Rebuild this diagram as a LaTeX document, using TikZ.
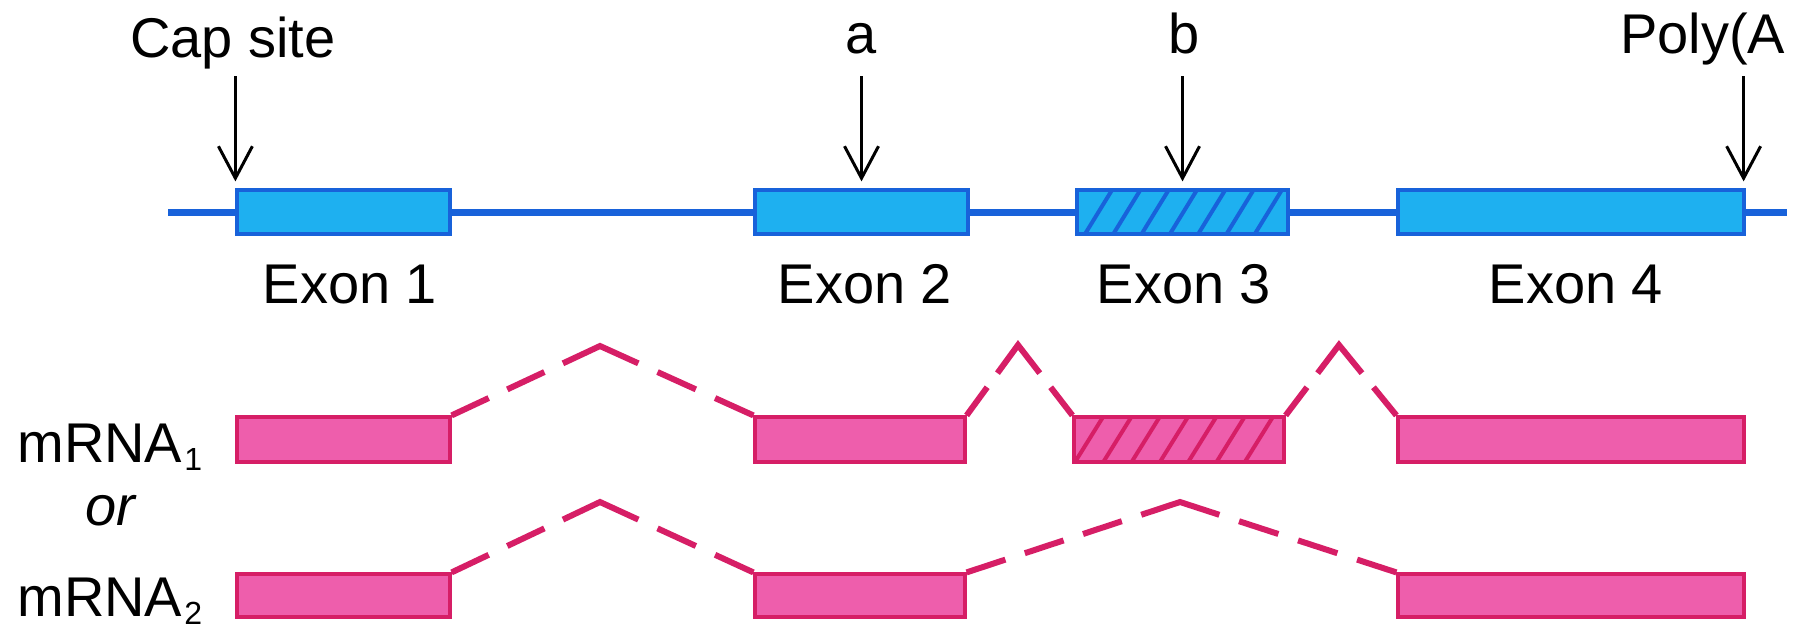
\documentclass[tikz,border=0pt]{standalone}
\usepackage{fontspec}
\setmainfont{Liberation Sans}
\usetikzlibrary{calc,arrows.meta}
\definecolor{dnablue}{RGB}{24,98,218}
\definecolor{exonfill}{RGB}{30,176,240}
\definecolor{pinkfill}{RGB}{238,94,172}
\definecolor{pinkline}{RGB}{214,30,102}
\tikzset{
  exonbox/.style={draw=dnablue, fill=exonfill, line width=1.6pt, inner sep=0pt, minimum height=22pt},
  mboxa/.style={draw=pinkline, fill=pinkfill, line width=1.6pt, inner sep=0pt, minimum height=22.5pt},
  mboxb/.style={draw=pinkline, fill=pinkfill, line width=1.6pt, inner sep=0pt, minimum height=21.5pt},
  dna/.style={draw=dnablue, line width=3.5pt},
  arr/.style={draw=black, line width=1.5pt, -{Straight Barb[length=16pt, width=17pt]}},
  lbl/.style={inner sep=0pt, anchor=base, font=\fontsize{28pt}{33pt}\selectfont},
  spl/.style={draw=pinkline, line width=3pt, line join=miter},
  hatchblue/.style={path picture={\foreach \i in {0,...,6} \draw[draw=dnablue, line width=2pt] ([xshift={4pt+\i*14.15pt}]path picture bounding box.south west) -- ++(13.5pt,22pt);}},
  hatchpink/.style={path picture={\foreach \i in {0,...,6} \draw[draw=pinkline, line width=2pt] ([xshift={0.5pt+\i*14.15pt}]path picture bounding box.south west) -- ++(14pt,22.5pt);}}
}
\newcommand\splicejoin[5]{%
  \pgfmathsetmacro\spA{1/(#4-1/3)}%
  \pgfmathsetmacro\spB{1/(#5-1/3)}%
  \pgfmathtruncatemacro\smA{#4-2}%
  \pgfmathtruncatemacro\smB{#5-2}%
  \foreach \k in {0,...,\smA} \draw[spl] ($(#1)!{\k*\spA}!(#2)$) -- ($(#1)!{(\k+2/3)*\spA}!(#2)$);
  \foreach \k in {0,...,\smB} \draw[spl] ($(#3)!{\k*\spB}!(#2)$) -- ($(#3)!{(\k+2/3)*\spB}!(#2)$);
  \draw[spl] ($(#1)!{(#4-1)*\spA}!(#2)$) -- (#2) -- ($(#3)!{(#5-1)*\spB}!(#2)$);
}
\newcommand\subdigit[1]{\kern1pt\raisebox{-4pt}{\fontsize{16pt}{16pt}\selectfont #1}}
\begin{document}
\begin{tikzpicture}[x=0.5pt, y=-0.5pt]
\useasboundingbox (0,0) rectangle (1807,633);

% gene
\coordinate (L) at (168,212);
\coordinate (R) at (1787,212);
\coordinate (tail) at (0,76);
\draw[dna] (L) -- (R);
\node[exonbox, minimum width=106.5pt] (e1) at (343.5,212) {};
\node[exonbox, minimum width=106.5pt] (e2) at (861.5,212) {};
\node[exonbox, hatchblue, minimum width=105.5pt] (e3) at (1182.5,212) {};
\node[exonbox, minimum width=173pt] (e4) at (1571,212) {};

% site labels and arrows
\node[lbl] (tcap) at (233,57) {Cap site};
\node[lbl] (ta) at (861,53) {a};
\node[lbl] (tb) at (1184,53) {b};
\begin{scope}
\clip (0,0) rectangle (1788,633);
\node[lbl, anchor=base west] (tpoly) at (1620,53) {Poly(A};
\end{scope}
\draw[arr] (e1.north west |- tail) -- ([yshift=3.5pt]e1.north west);
\draw[arr] (e2.north |- tail) -- ([yshift=3.5pt]e2.north);
\draw[arr] (e3.north |- tail) -- ([yshift=3.5pt]e3.north);
\draw[arr] ([xshift=-1pt]e4.north east |- tail) -- ([yshift=3.5pt,xshift=-1pt]e4.north east);

% exon labels
\node[lbl] (x1) at (350,303) {Exon 1};
\node[lbl] (x2) at (865,303) {Exon 2};
\node[lbl] (x3) at (1184,303) {Exon 3};
\node[lbl] (x4) at (1576,303) {Exon 4};

% mRNA labels
\node[lbl, anchor=base west] (m1) at (17,462) {mRNA\subdigit{1}};
\node[lbl] (or) at (110,525) {\itshape or};
\node[lbl, anchor=base west] (m2) at (17,616) {mRNA\subdigit{2}};

% mRNA1
\node[mboxa, minimum width=106.5pt] (a1) at (343.5,439.5) {};
\node[mboxa, minimum width=105pt] (a2) at (860,439.5) {};
\node[mboxa, hatchpink, minimum width=105pt] (a3) at (1179,439.5) {};
\node[mboxa, minimum width=173pt] (a4) at (1571,439.5) {};
\coordinate (p1a) at (600,346);
\coordinate (p1b) at (1018,345);
\coordinate (p1c) at (1339,345);
\splicejoin{a1.north east}{p1a}{a2.north west}{3}{3}
\splicejoin{a2.north east}{p1b}{a3.north west}{2}{2}
\splicejoin{a3.north east}{p1c}{a4.north west}{2}{2}

% mRNA2
\node[mboxb, minimum width=106.5pt] (b1) at (343.5,595.5) {};
\node[mboxb, minimum width=105pt] (b2) at (860,595.5) {};
\node[mboxb, minimum width=173pt] (b4) at (1571,595.5) {};
\coordinate (p2a) at (600,502);
\coordinate (p2b) at (1180,502);
\splicejoin{b1.north east}{p2a}{b2.north west}{3}{3}
\splicejoin{b2.north east}{p2b}{b4.north west}{4}{4}
\end{tikzpicture}
\end{document}
